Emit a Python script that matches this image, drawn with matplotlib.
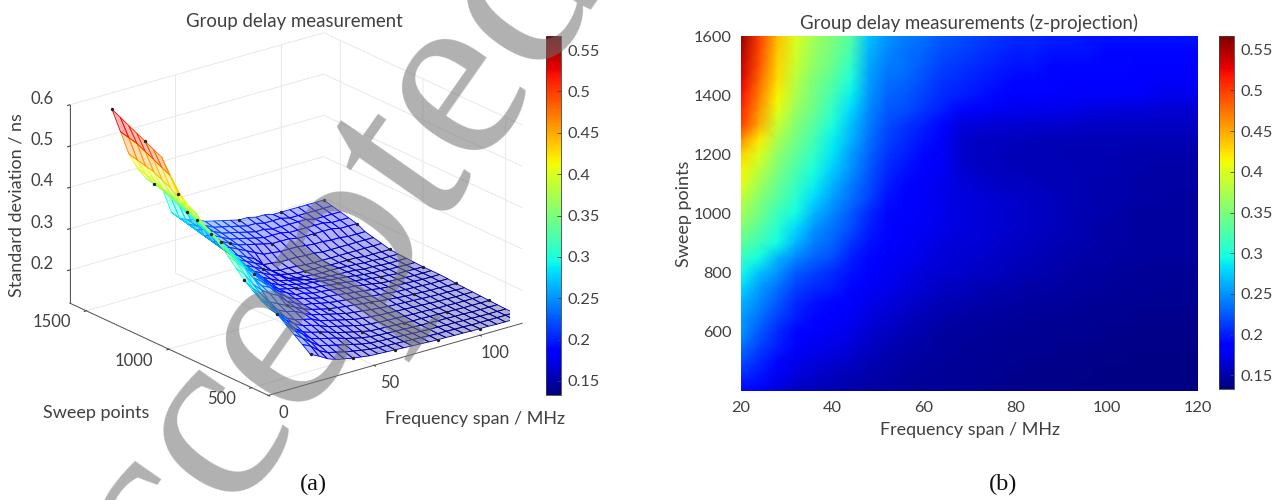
import numpy as np
import matplotlib
matplotlib.use('Agg')
import matplotlib.pyplot as plt
from matplotlib.colors import Normalize
from matplotlib.cm import ScalarMappable

plt.rcParams['font.family'] = ['Lato', 'DejaVu Sans']

TXT = '#404040'

freq_span = [20, 24, 28, 32, 36, 40, 44, 48, 52, 56, 60, 64, 68, 72, 76, 80, 84, 88, 92, 96, 100, 104, 108, 112, 116, 120]
sweep_points = [1600, 1550, 1500, 1450, 1400, 1350, 1300, 1250, 1200, 1150, 1100, 1050, 1000,
                950, 900, 850, 800, 750, 700, 650, 600, 550, 500, 450, 400]

# standard deviation in ns, one row per sweep_points value
std_dev = [
    [.56, .50, .44, .40, .37, .35, .33, .27, .25, .24, .235, .225, .22, .215, .21, .205, .205, .20, .20, .195, .195, .195, .195, .195, .195, .195],
    [.55, .495, .435, .395, .365, .345, .32, .265, .245, .235, .23, .22, .215, .21, .205, .20, .20, .195, .195, .195, .19, .19, .19, .19, .19, .19],
    [.54, .49, .43, .39, .36, .34, .31, .26, .24, .235, .225, .215, .21, .205, .20, .195, .195, .19, .19, .19, .19, .19, .185, .185, .185, .185],
    [.53, .48, .425, .38, .35, .33, .30, .255, .235, .23, .22, .21, .205, .20, .195, .19, .19, .19, .185, .185, .185, .185, .185, .18, .18, .18],
    [.52, .47, .415, .375, .345, .32, .29, .25, .23, .225, .215, .205, .20, .195, .19, .185, .185, .185, .18, .18, .18, .18, .18, .175, .175, .175],
    [.51, .46, .405, .365, .34, .31, .28, .245, .225, .22, .21, .20, .19, .18, .178, .175, .175, .175, .172, .17, .17, .168, .168, .165, .165, .165],
    [.50, .45, .39, .355, .33, .30, .27, .24, .22, .21, .20, .19, .17, .168, .165, .165, .165, .163, .163, .16, .16, .16, .16, .16, .16, .16],
    [.465, .42, .375, .345, .32, .29, .265, .235, .215, .205, .195, .185, .165, .16, .16, .158, .156, .155, .155, .155, .155, .155, .155, .155, .155, .155],
    [.43, .40, .36, .335, .31, .285, .255, .23, .21, .20, .19, .18, .165, .16, .157, .155, .155, .155, .153, .153, .153, .153, .15, .15, .15, .15],
    [.415, .385, .35, .325, .30, .275, .25, .225, .205, .195, .185, .178, .165, .16, .158, .156, .155, .155, .155, .153, .152, .15, .15, .148, .148, .148],
    [.405, .37, .34, .315, .29, .265, .24, .22, .20, .19, .18, .175, .17, .165, .16, .158, .157, .155, .155, .153, .15, .15, .148, .147, .147, .147],
    [.385, .355, .33, .305, .28, .255, .235, .215, .195, .185, .18, .175, .17, .168, .165, .162, .16, .158, .155, .152, .15, .15, .147, .147, .146, .146],
    [.37, .345, .315, .295, .265, .245, .225, .205, .19, .185, .18, .175, .17, .168, .165, .163, .16, .158, .155, .152, .15, .148, .146, .146, .145, .145],
    [.355, .33, .305, .28, .25, .235, .22, .20, .19, .18, .178, .172, .17, .168, .165, .162, .16, .157, .154, .15, .148, .147, .146, .145, .145, .145],
    [.335, .315, .295, .265, .24, .23, .21, .195, .185, .18, .175, .17, .168, .166, .163, .16, .158, .155, .152, .15, .148, .147, .146, .145, .145, .145],
    [.315, .295, .265, .245, .23, .22, .20, .19, .18, .177, .172, .168, .165, .163, .16, .158, .155, .152, .15, .148, .147, .146, .145, .144, .144, .144],
    [.295, .27, .25, .225, .215, .205, .195, .185, .178, .173, .168, .165, .162, .16, .157, .155, .152, .15, .148, .146, .145, .144, .143, .143, .142, .142],
    [.28, .255, .235, .215, .205, .20, .19, .18, .175, .17, .165, .16, .157, .155, .152, .15, .148, .147, .146, .145, .144, .143, .142, .142, .141, .141],
    [.265, .245, .225, .205, .195, .19, .185, .175, .17, .165, .16, .155, .152, .15, .148, .147, .146, .145, .144, .143, .142, .141, .141, .14, .14, .14],
    [.255, .235, .215, .20, .19, .185, .178, .17, .165, .16, .155, .15, .148, .146, .145, .144, .143, .142, .142, .141, .14, .14, .139, .139, .139, .139],
    [.25, .225, .205, .19, .183, .178, .172, .165, .16, .155, .15, .146, .145, .144, .143, .142, .141, .141, .14, .14, .139, .139, .138, .138, .138, .138],
    [.235, .215, .20, .183, .177, .172, .167, .16, .155, .15, .147, .145, .144, .143, .142, .141, .14, .14, .139, .139, .138, .138, .137, .137, .137, .137],
    [.22, .205, .19, .175, .17, .165, .16, .155, .15, .147, .145, .144, .143, .142, .141, .14, .139, .139, .138, .138, .137, .137, .136, .136, .136, .136],
    [.205, .195, .178, .168, .163, .158, .154, .15, .147, .145, .144, .143, .142, .141, .14, .139, .138, .138, .137, .137, .136, .136, .136, .136, .136, .136],
    [.19, .18, .168, .16, .156, .152, .149, .146, .145, .144, .143, .142, .141, .14, .139, .138, .138, .137, .137, .136, .136, .136, .135, .135, .135, .135],
]

cbar_ticks = [0.15, 0.2, 0.25, 0.3, 0.35, 0.4, 0.45, 0.5, 0.55]
cbar_labels = ['0.15', '0.2', '0.25', '0.3', '0.35', '0.4', '0.45', '0.5', '0.55']

W, H = 1279, 500


def box(x0, y0, x1, y1):
    # pixel box (top-left origin) to figure fraction
    return [x0 / W, 1 - y1 / H, (x1 - x0) / W, (y1 - y0) / H]


def style_cbar(cb):
    cb.set_ticks(cbar_ticks, labels=cbar_labels)
    cb.ax.tick_params(direction='in', length=3, width=0.6, color=TXT, labelcolor=TXT, labelsize=11.8, pad=5)
    cb.outline.set_edgecolor(TXT)
    cb.outline.set_linewidth(0.6)


fig = plt.figure(figsize=(W / 100, H / 100), dpi=100)

X, Y = np.meshgrid(np.array(freq_span, dtype=float), np.array(sweep_points, dtype=float))
Z = np.array(std_dev)
norm = Normalize(vmin=0.133, vmax=0.567)
cmap = plt.get_cmap('jet')

# (a) mesh
ax = fig.add_axes(box(40, 0, 540, 440), projection='3d', proj_type='ortho')
ax.view_init(elev=21.3, azim=-128)
ax.set_box_aspect((1, 1, 0.66), zoom=1.11)
ax.patch.set_alpha(0)

cell = 0.25 * (Z[:-1, :-1] + Z[1:, :-1] + Z[:-1, 1:] + Z[1:, 1:])
edges = cmap(norm(cell))
faces = edges.copy()
faces[..., 3] = 0.3
surf = ax.plot_surface(X, Y, Z, rstride=1, cstride=1, facecolors=edges, shade=False, linewidth=0.6)
surf.set_facecolor(faces.reshape(-1, 4))
surf.set_edgecolor(edges.reshape(-1, 4))
ax.scatter(X[::4, ::5].ravel(), Y[::4, ::5].ravel(), Z[::4, ::5].ravel(), s=2, c='#222222', depthshade=False)

ax.set_xlim(0, 120)
ax.set_ylim(400, 1600)
ax.set_zlim(0.12, 0.6)
ax.set_xticks([0, 50, 100])
ax.set_yticks([500, 1000, 1500])
ax.set_zticks([0.2, 0.3, 0.4, 0.5, 0.6])
ax.set_zticklabels(['0.2', '0.3', '0.4', '0.5', '0.6'])
ax.tick_params(labelsize=12, labelcolor=TXT, color=TXT, pad=2)
ax.tick_params(axis='x', pad=5)
for lab in ax.get_yticklabels():
    lab.set_ha('right')
    lab.set_va('baseline')
for lab in ax.get_xticklabels():
    lab.set_va('baseline')
for lab in ax.get_zticklabels():
    lab.set_va('baseline')
for axis in (ax.xaxis, ax.yaxis, ax.zaxis):
    axis.set_pane_color((1, 1, 1, 0))
    axis.pane.set_edgecolor('#e8e8e8')
    axis._axinfo['grid'].update(color='#e8e8e8', linewidth=0.7)
    axis._axinfo['tick'].update(inward_factor=0.1, outward_factor=0.0)
    axis.line.set_color('#555555')
    axis.line.set_linewidth(0.7)

cax1 = fig.add_axes(box(546, 36, 561, 395))
cb1 = fig.colorbar(ScalarMappable(norm=norm, cmap=cmap), cax=cax1)
style_cbar(cb1)

fig.text(294 / W, 1 - 22 / H, 'Group delay measurement', ha='center', va='center', fontsize=13.4, color=TXT)
fig.text(17 / W, 1 - 205 / H, 'Standard deviation / ns', ha='center', va='center', rotation=90, fontsize=13, color=TXT)
fig.text(96 / W, 1 - 413 / H, 'Sweep points', ha='center', va='center', fontsize=13, color=TXT)
fig.text(475 / W, 1 - 419 / H, 'Frequency span / MHz', ha='center', va='center', fontsize=12.9, color=TXT)

# (b) z-projection
ax2 = fig.add_axes(box(741, 36, 1198, 391))
mesh = ax2.pcolormesh(X, Y, Z, cmap=cmap, norm=norm, shading='gouraud')
ax2.set_xlim(20, 120)
ax2.set_ylim(400, 1600)
ax2.set_xticks([20, 40, 60, 80, 100, 120])
ax2.set_yticks([600, 800, 1000, 1200, 1400, 1600])
ax2.tick_params(length=0, labelsize=11.8, labelcolor=TXT, pad=7)
ax2.set_xlabel('Frequency span / MHz', fontsize=12.9, color=TXT, labelpad=5)
ax2.set_ylabel('Sweep points', fontsize=13, color=TXT, labelpad=1)
ax2.set_title('Group delay measurements (z-projection)', fontsize=13.4, color=TXT, pad=5)
for sp in ax2.spines.values():
    sp.set_visible(False)

cax2 = fig.add_axes(box(1219, 36, 1234, 389))
cb2 = fig.colorbar(mesh, cax=cax2)
style_cbar(cb2)

fig.text(313 / W, 1 - 484 / H, '(a)', family='Liberation Serif', ha='center', va='center', fontsize=17.5, color='#111111')
fig.text(1003 / W, 1 - 484 / H, '(b)', family='Liberation Serif', ha='center', va='center', fontsize=17.5, color='#111111')

# watermark across panel (a), runs off the figure like the original
fig.text(339 / W, 1 - 367 / H, 'Accepted', family='Liberation Serif', rotation=55, rotation_mode='anchor',
         ha='center', va='baseline', fontsize=181, color='#707070', alpha=0.55, zorder=5)

fig.savefig('out.png', dpi=100)
